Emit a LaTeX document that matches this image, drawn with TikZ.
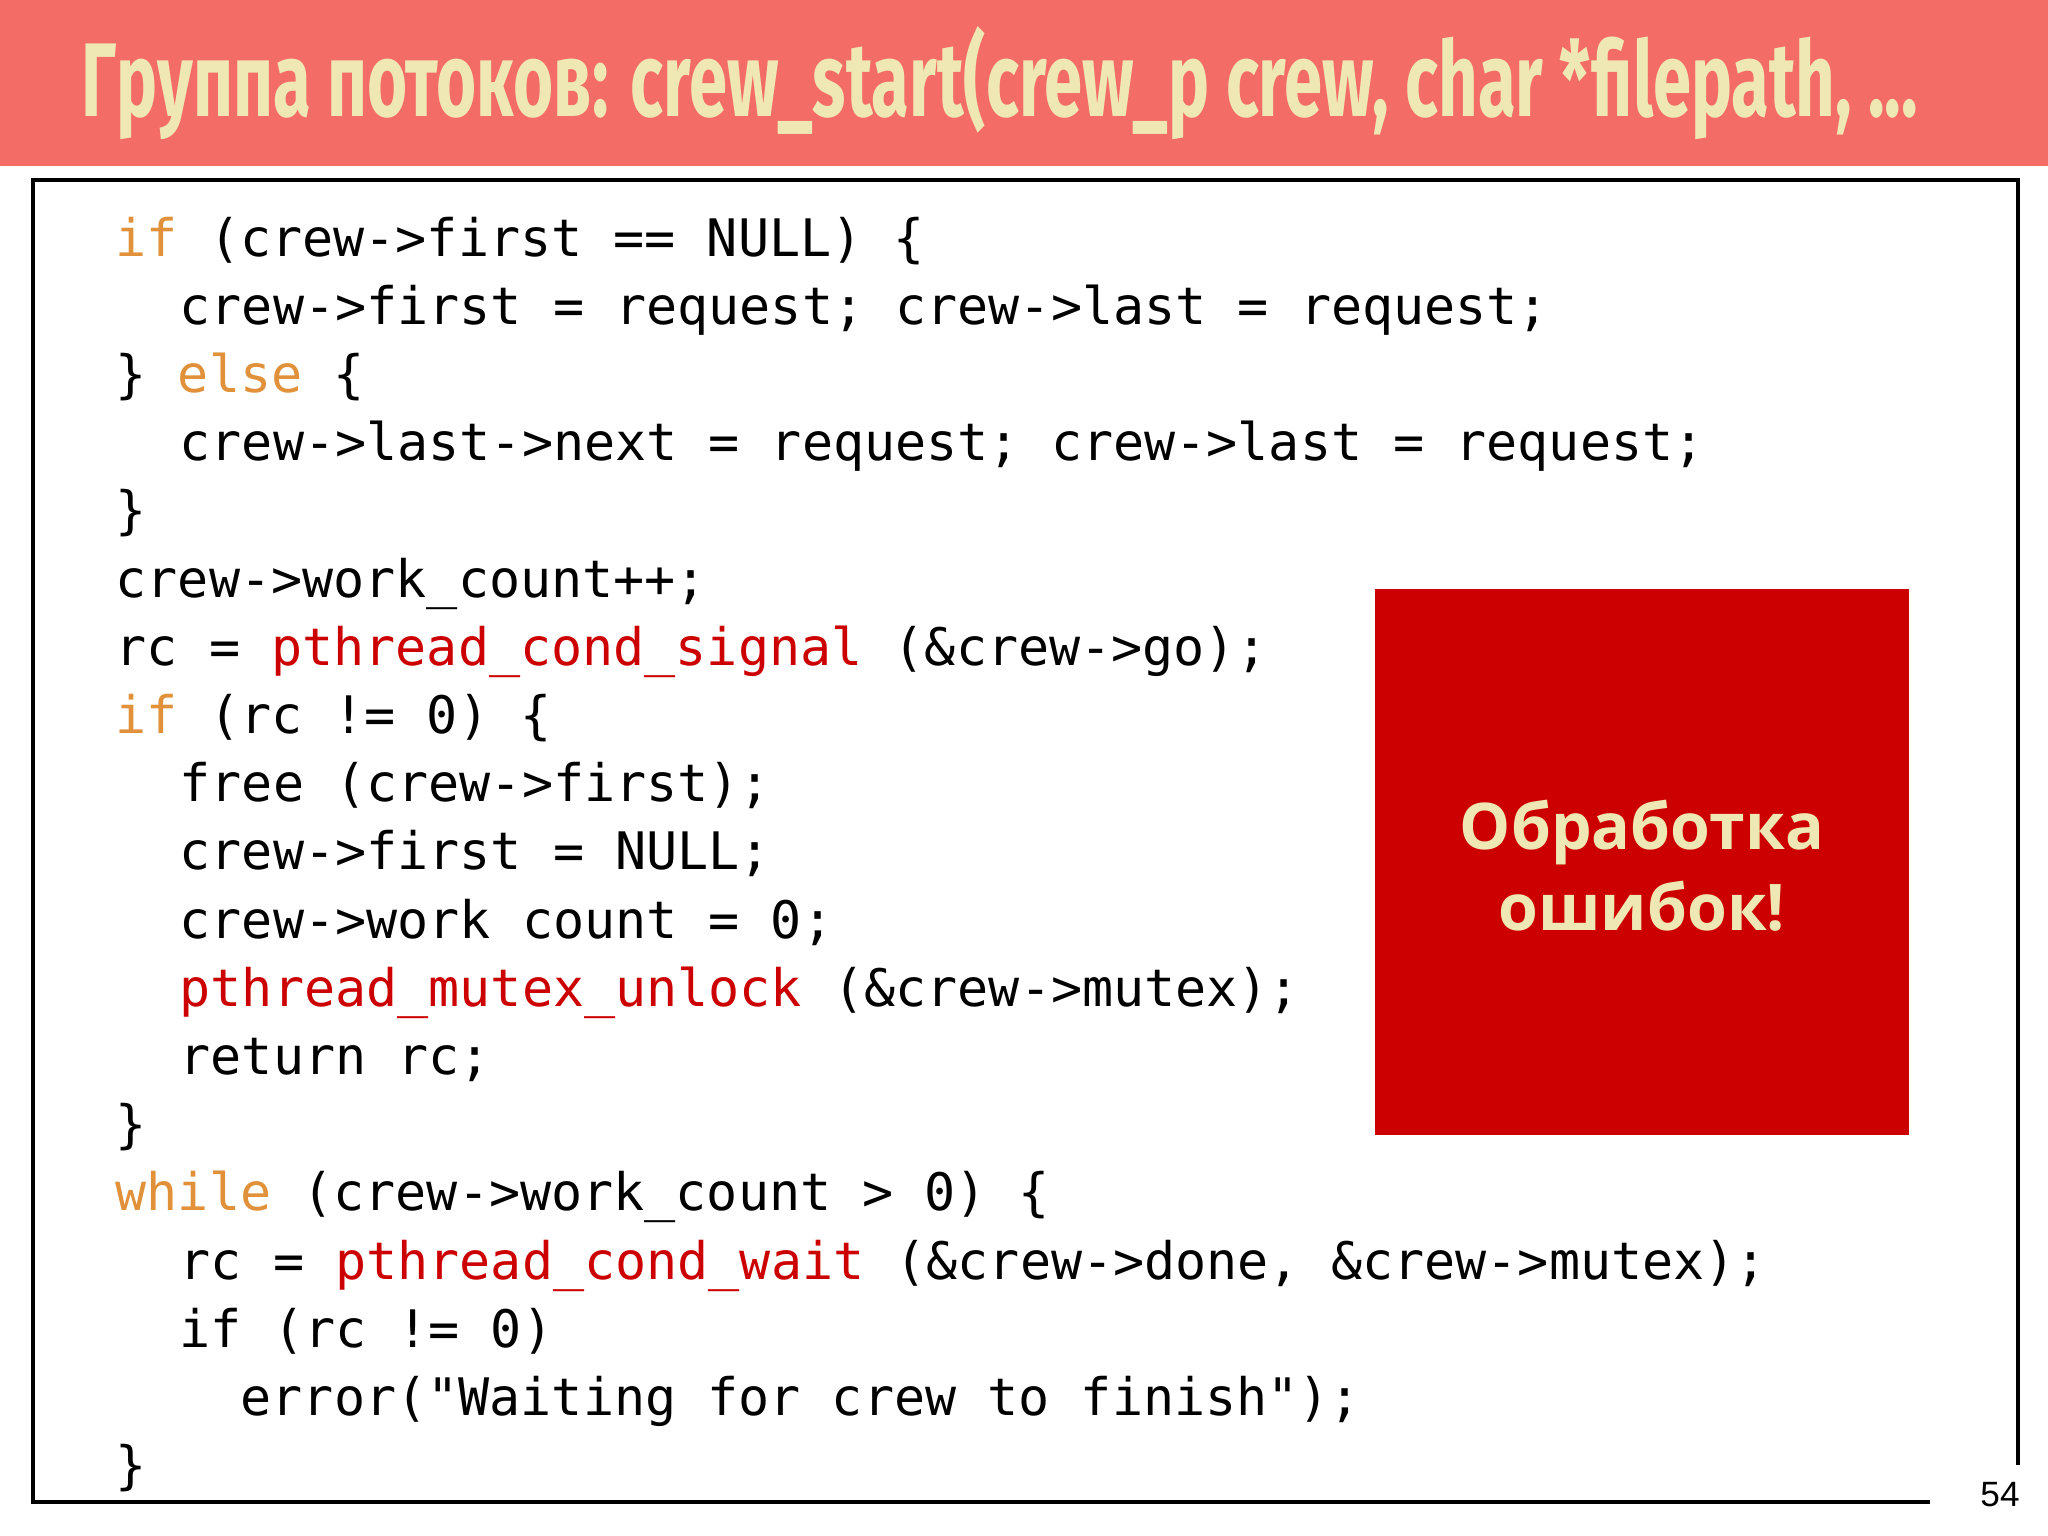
\documentclass[tikz,border=0pt]{standalone}
\usepackage{fontspec}
\setmainfont{Open Sans}
\setmonofont{DejaVu Sans Mono}
\newfontfamily\titlefont{Fira Sans}
\newfontfamily\numfont{Liberation Sans}
\definecolor{hdr}{HTML}{F46C66}
\definecolor{cream}{HTML}{EFE8B4}
\definecolor{kw}{HTML}{E0913A}
\definecolor{fn}{HTML}{CC0000}
\definecolor{boxred}{HTML}{CC0000}
\begin{document}
\begin{tikzpicture}[x=0.01cm,y=-0.01cm,
  code/.style={anchor=base west,inner sep=0pt,font=\ttfamily\fontsize{14.7pt}{14.7pt}\selectfont}]
\useasboundingbox (0,0) rectangle (2048,1536);
\fill[white] (0,0) rectangle (2048,1536);
\fill[hdr] (0,0) rectangle (2048,166);
\node[anchor=base west,inner sep=0pt,text=cream] (title) at (81,116)
  {\resizebox{1836\dimexpr0.01cm\relax}{90\dimexpr0.01cm\relax}{\titlefont\bfseries Группа потоков: crew\_start(crew\_p crew, char *filepath, ...}};
\draw[line width=1.3pt] (1930,1502) -- (33,1502) -- (33,180) -- (2018,180) -- (2018,1465);
\node[anchor=base,inner sep=0pt,font=\numfont\fontsize{10pt}{10pt}\selectfont] (pg) at (2000,1506) {54};
\newcommand\kwd[1]{\textcolor{kw}{#1}}
\newcommand\fnc[1]{\textcolor{fn}{#1}}
\node[code] (l1) at (115,256) {\kwd{if} (crew->first == NULL) \{};
\node[code] (l2) at (179,324.2) {crew->first = request; crew->last = request;};
\node[code] (l3) at (115,392.4) {\} \kwd{else} \{};
\node[code] (l4) at (179,460.6) {crew->last->next = request; crew->last = request;};
\node[code] (l5) at (115,528.8) {\}};
\node[code] (l6) at (115,597) {crew->work\_count++;};
\node[code] (l7) at (115,665.2) {rc = \fnc{pthread\_cond\_signal} (\&crew->go);};
\node[code] (l8) at (115,733.4) {\kwd{if} (rc != 0) \{};
\node[code] (l9) at (179,801.6) {free (crew->first);};
\node[code] (l10) at (179,869.8) {crew->first = NULL;};
\node[code] (l11) at (179,938) {crew->work count = 0;};
\node[code] (l12) at (179,1006.2) {\fnc{pthread\_mutex\_unlock} (\&crew->mutex);};
\node[code] (l13) at (179,1074.4) {return rc;};
\node[code] (l14) at (115,1142.6) {\}};
\node[code] (l15) at (115,1210.8) {\kwd{while} (crew->work\_count > 0) \{};
\node[code] (l16) at (179,1279) {rc = \fnc{pthread\_cond\_wait} (\&crew->done, \&crew->mutex);};
\node[code] (l17) at (179,1347.2) {if (rc != 0)};
\node[code] (l18) at (240,1415.4) {error("Waiting for crew to finish");};
\node[code] (l19) at (115,1483.6) {\}};
\fill[boxred] (1375,589) rectangle (1909,1135);
\node[align=center,text=cream,font=\bfseries\fontsize{18.3pt}{23pt}\selectfont] (err) at (1642,866) {Обработка\\ошибок!};
\end{tikzpicture}
\end{document}
